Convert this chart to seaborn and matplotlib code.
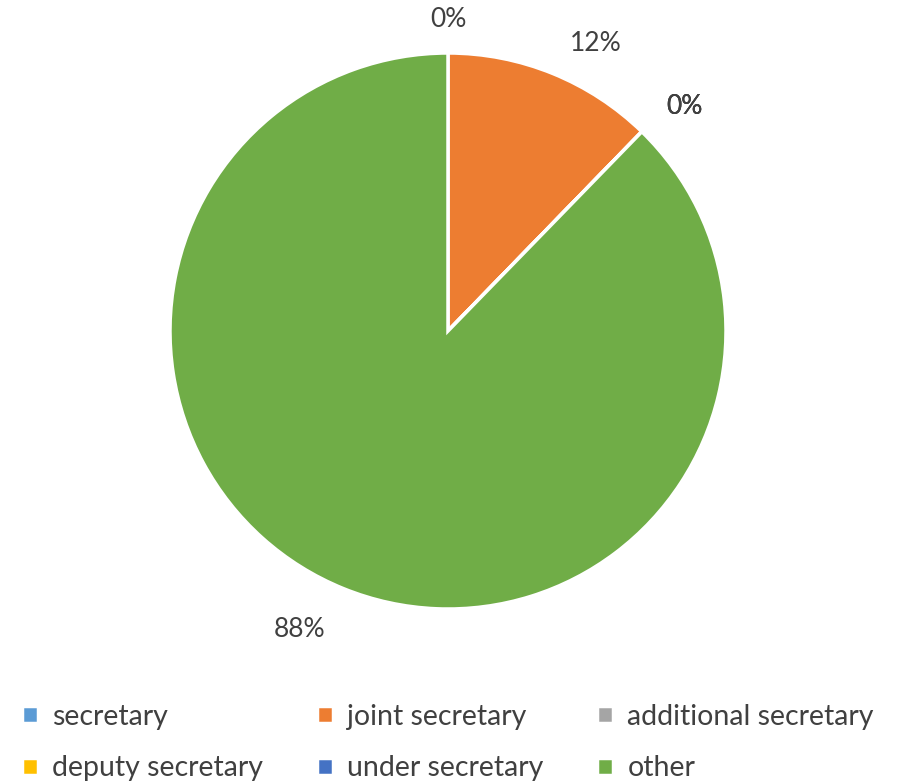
import matplotlib
matplotlib.use("Agg")
import matplotlib.pyplot as plt
import seaborn as sns

# Data
categories = ["secretary", "joint secretary", "additional secretary",
              "deputy secretary", "under secretary", "other"]
counts = [0, 7, 0, 0, 0, 50]
colors = ["#5B9BD5", "#ED7D31", "#A5A5A5", "#FFC000", "#4472C4", "#70AD47"]

sns.set_theme(style="white")
plt.rcParams['font.family'] = ['Lato', 'DejaVu Sans']

W, H = 907, 784
fig = plt.figure(figsize=(W / 100, H / 100), dpi=100)

# pie centre / radius in pixels
cx, cy, r = 448, 331, 278
ax = fig.add_axes([(cx - r) / W, 1 - (cy + r) / H, 2 * r / W, 2 * r / H])

wedges, texts, autotexts = ax.pie(
    counts, colors=sns.color_palette(colors), startangle=90, counterclock=False,
    autopct=lambda p: "{:.0f}%".format(p), pctdistance=1.15,
    wedgeprops=dict(edgecolor="white", linewidth=2.5),
    textprops=dict(color="#404040", fontsize=19))
ax.set_xlim(-1, 1)
ax.set_ylim(-1, 1)
ax.set_aspect("equal")
ax.axis("off")

# nudge the labels a bit like the excel "best fit" placement
nudges = [(0.0, -0.03), (0.10, -0.03), (0.05, -0.015),
          (0.05, -0.015), (0.05, -0.015), (-0.10, -0.007)]
for t, (dx, dy) in zip(autotexts, nudges):
    x, y = t.get_position()
    t.set_position((x + dx, y + dy))

# legend is filled column-wise, reorder so it reads row-wise
order = [0, 3, 1, 4, 2, 5]
fig.legend([wedges[i] for i in order], [categories[i] for i in order],
           loc="upper left", ncol=3,
           bbox_to_anchor=(-0.004, 1 - 678 / H), frameon=False,
           fontsize=20.5, handlelength=0.55, handleheight=0.55,
           handletextpad=0.5, columnspacing=1.9, labelspacing=0.9,
           labelcolor="#404040")

fig.savefig("out.png", dpi=100)
